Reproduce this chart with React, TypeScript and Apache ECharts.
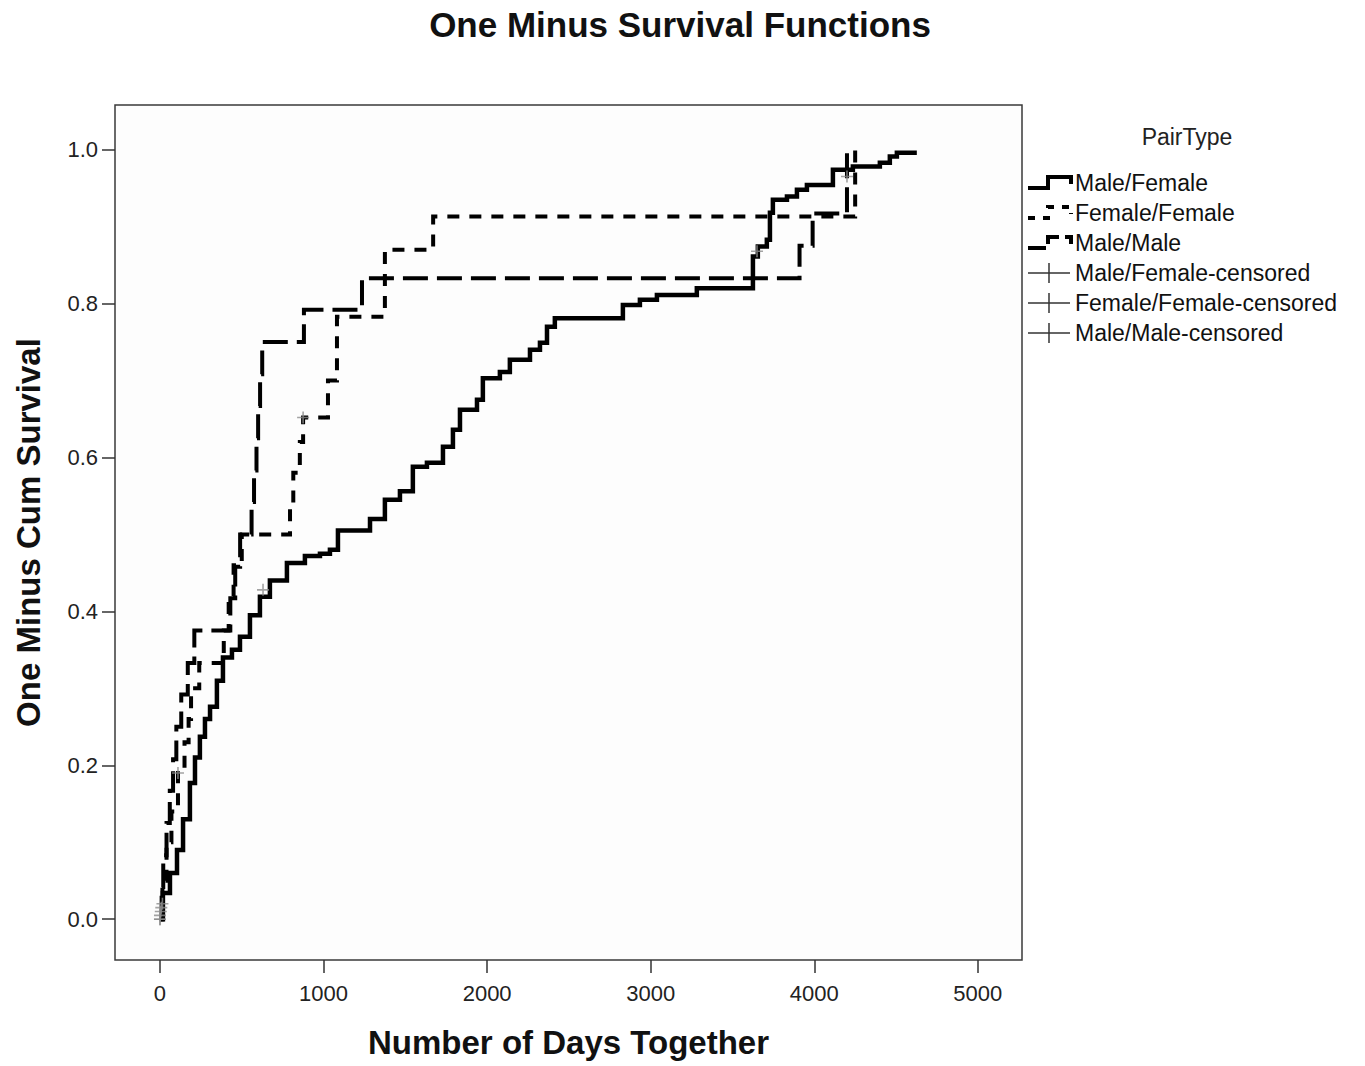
import React, { useEffect, useRef } from "react";
import * as echarts from "echarts";

// ---- Data ----
const xTicks = [0, 1000, 2000, 3000, 4000, 5000];
const yTicks = [0, 0.2, 0.4, 0.6, 0.8, 1.0];

const seriesNames = ["Male/Female", "Female/Female", "Male/Male"];
const censoredNames = ["Male/Female-censored", "Female/Female-censored", "Male/Male-censored"];

const mfDays = [0, 18, 61, 104, 141, 183, 214, 244, 275, 306, 348, 385, 440, 489, 550, 611, 672, 776, 886, 978, 1039, 1088, 1284, 1375, 1467, 1546, 1632, 1730, 1791, 1834, 1938, 1974, 2078, 2139, 2262, 2323, 2366, 2414, 2830, 2934, 3038, 3282, 3625, 3655, 3710, 3729, 3747, 3833, 3894, 3955, 4114, 4236, 4401, 4462, 4505, 4627];
const mfVals = [0, 0.034, 0.06, 0.09, 0.13, 0.177, 0.21, 0.237, 0.26, 0.276, 0.31, 0.34, 0.35, 0.367, 0.395, 0.419, 0.44, 0.463, 0.472, 0.475, 0.48, 0.505, 0.52, 0.545, 0.556, 0.588, 0.593, 0.614, 0.636, 0.662, 0.675, 0.703, 0.711, 0.727, 0.74, 0.749, 0.77, 0.781, 0.798, 0.805, 0.811, 0.82, 0.861, 0.874, 0.883, 0.918, 0.935, 0.939, 0.948, 0.954, 0.974, 0.978, 0.983, 0.991, 0.996, 0.996];

const ffDays = [0, 15, 40, 70, 110, 150, 175, 190, 240, 390, 420, 450, 500, 795, 815, 855, 875, 1027, 1082, 1375, 1670, 4250, 4250];
const ffVals = [0, 0.05, 0.1, 0.14, 0.19, 0.23, 0.26, 0.3, 0.333, 0.375, 0.42, 0.46, 0.5, 0.54, 0.58, 0.62, 0.652, 0.7, 0.783, 0.87, 0.913, 1.0, 1.0];

const mmDays = [0, 10, 20, 40, 60, 80, 100, 130, 170, 210, 430, 460, 490, 560, 575, 590, 600, 612, 625, 880, 1235, 3910, 3990, 4200, 4200];
const mmVals = [0, 0.042, 0.083, 0.125, 0.167, 0.208, 0.25, 0.292, 0.333, 0.375, 0.417, 0.458, 0.5, 0.542, 0.583, 0.625, 0.667, 0.708, 0.75, 0.792, 0.833, 0.875, 0.917, 1.0, 1.0];

const mfCensDays = [0, 5, 15, 630, 3650, 4200];
const mfCensVals = [0, 0.01, 0.02, 0.428, 0.868, 0.965];
const ffCensDays = [0, 110, 875];
const ffCensVals = [0.005, 0.19, 0.652];
const mmCensDays = [0, 8];
const mmCensVals = [0, 0.015];

const zip = (a: number[], b: number[]) => a.map((v, i) => [v, b[i]]);

const FONT = "'Liberation Sans', Arial, sans-serif";
const PLUS = "path://M0,5L10,5M5,0L5,10";

export default function App() {
  const ref = useRef<HTMLDivElement>(null);

  useEffect(() => {
    document.body.style.margin = "0";
    const chart = echarts.init(ref.current!, null, { renderer: "svg" });

    const stepLine = (name: string, data: number[][], dash: any, width: number) => ({
      name,
      type: "line",
      step: "end",
      data,
      showSymbol: false,
      symbol: "none",
      lineStyle: { color: "#000", width, type: dash, cap: "butt", join: "miter" },
      z: 3,
    });
    const cens = (name: string, data: number[][]) => ({
      name,
      type: "scatter",
      data,
      symbol: PLUS,
      symbolSize: 12,
      itemStyle: { color: "rgba(0,0,0,0)", borderColor: "#8c8c8c", borderWidth: 1.6 },
      z: 5,
    });

    const legendRows = [183, 213, 243, 273, 303, 333];
    const legendGraphics: any[] = [];
    const dashes = [null, [7, 8], [18, 6]];
    legendRows.forEach((y, i) => {
      if (i < 3) {
        legendGraphics.push({
          type: "polyline",
          shape: { points: [[1028, y + 5], [1048, y + 5], [1048, y - 6], [1071, y - 6], [1071, y + 1]] },
          style: { stroke: "#000", lineWidth: 4, fill: null, lineDash: dashes[i] as any },
        });
      } else {
        legendGraphics.push({ type: "line", shape: { x1: 1028, y1: y, x2: 1070, y2: y }, style: { stroke: "#333", lineWidth: 1.5 } });
        legendGraphics.push({ type: "line", shape: { x1: 1049, y1: y - 10, x2: 1049, y2: y + 10 }, style: { stroke: "#333", lineWidth: 1.5 } });
      }
      legendGraphics.push({
        type: "text",
        x: 1075,
        y,
        style: {
          text: i < 3 ? seriesNames[i] : censoredNames[i - 3],
          font: `23px ${FONT}`,
          fill: "#111",
          verticalAlign: "middle",
        },
      });
    });
    legendGraphics.push({
      type: "text",
      x: 1187,
      y: 137,
      style: { text: "PairType", font: `23px ${FONT}`, fill: "#222", align: "center", verticalAlign: "middle" },
    });

    chart.setOption({
      animation: false,
      backgroundColor: "#fff",
      title: {
        text: "One Minus Survival Functions",
        left: 675,
        top: 2,
        textAlign: "center",
        textStyle: { fontFamily: FONT, fontSize: 35, fontWeight: "bold", color: "#111" },
      },
      grid: {
        left: 115,
        right: 343,
        top: 105,
        bottom: 106,
        show: true,
        borderColor: "#3a3a3a",
        borderWidth: 1.5,
        backgroundColor: "#fdfdfd",
        containLabel: false,
        outerBoundsMode: "none",
      },
      xAxis: {
        type: "value",
        min: -275,
        max: 5270,
        name: "Number of Days Together",
        nameLocation: "middle",
        nameGap: 66,
        nameTextStyle: { fontFamily: FONT, fontSize: 33, fontWeight: "bold", color: "#111" },
        axisLine: { show: false, onZero: false },
        splitLine: { show: false },
        axisTick: { show: true, length: 13, lineStyle: { color: "#333", width: 1.5 }, customValues: xTicks },
        axisLabel: {
          fontFamily: FONT,
          fontSize: 22,
          color: "#222",
          margin: 22,
          customValues: xTicks,
          formatter: (v: number) => String(Math.round(v)),
        },
      },
      yAxis: {
        type: "value",
        min: -0.053,
        max: 1.058,
        name: "One Minus Cum Survival",
        nameLocation: "middle",
        nameGap: 70,
        nameRotate: 90,
        nameTextStyle: { fontFamily: FONT, fontSize: 33, fontWeight: "bold", color: "#111" },
        axisLine: { show: false, onZero: false },
        splitLine: { show: false },
        axisTick: { show: true, length: 13, lineStyle: { color: "#333", width: 1.5 }, customValues: yTicks },
        axisLabel: {
          fontFamily: FONT,
          fontSize: 22,
          color: "#222",
          margin: 17,
          customValues: yTicks,
          formatter: (v: number) => v.toFixed(1),
        },
      },
      series: [
        stepLine(seriesNames[0], zip(mfDays, mfVals), "solid", 4.5),
        stepLine(seriesNames[1], zip(ffDays, ffVals), [12, 10], 4),
        stepLine(seriesNames[2], zip(mmDays, mmVals), [25, 9], 4),
        cens(censoredNames[0], zip(mfCensDays, mfCensVals)),
        cens(censoredNames[1], zip(ffCensDays, ffCensVals)),
        cens(censoredNames[2], zip(mmCensDays, mmCensVals)),
      ],
      graphic: legendGraphics,
    });

    return () => chart.dispose();
  }, []);

  return <div ref={ref} style={{ width: 1365, height: 1066 }} />;
}
